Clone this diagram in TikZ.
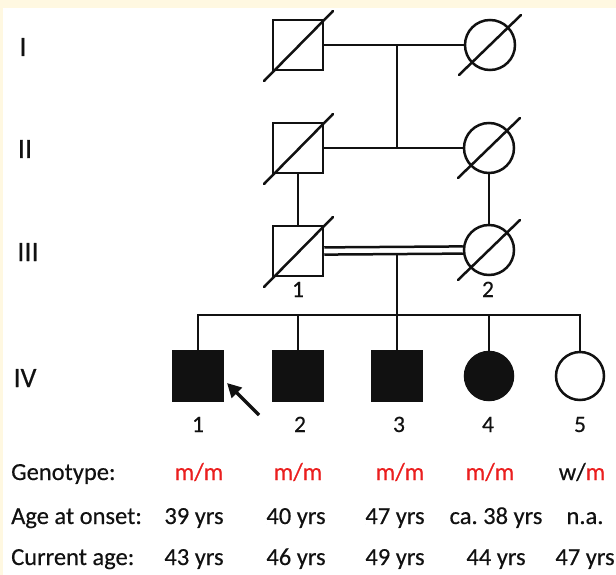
\documentclass[tikz,border=0pt]{standalone}
\usepackage{fontspec}
\setmainfont{Carlito}[FakeBold=0.35]
\usetikzlibrary{arrows.meta}
\definecolor{cream}{RGB}{255,248,225}
\definecolor{ink}{RGB}{17,17,17}
\definecolor{allele}{RGB}{235,30,30}
\frenchspacing
\tikzset{
  line/.style={line width=2.5pt, draw=ink},
  male/.style={line, rectangle, minimum size=50pt, inner sep=0pt},
  female/.style={line, circle, minimum size=50pt, inner sep=0pt},
  affected/.style={fill=ink},
  deceased/.style={line width=2.5pt, draw=ink, line cap=round},
  gen/.style={font=\fontsize{28}{30}\selectfont, text=ink, anchor=base},
  idlabel/.style={font=\fontsize{23.5}{26}\selectfont, text=ink, anchor=base},
  rowhead/.style={font=\fontsize{24.5}{26}\selectfont, text=ink, anchor=base west, inner sep=0pt},
  cell/.style={font=\fontsize{24.5}{26}\selectfont, text=ink, anchor=base, inner sep=0pt},
}
\begin{document}
\begin{tikzpicture}[x=1pt, y=-1pt]
  % page and the cream frame strips
  \fill[white] (0,0) rectangle (616,575);
  \fill[cream] (0,0) rectangle (616,8);
  \fill[cream] (0,0) rectangle (2.5,575);
  \useasboundingbox (0,0) rectangle (616,575);

  % generation numerals
  \node[gen] (gI)   at (23,56)  {I};
  \node[gen] (gII)  at (25,158) {II};
  \node[gen] (gIII) at (28,261) {III};
  \node[gen] (gIV)  at (25,387) {IV};

  % generation I
  \node[male]   (I1) at (298,45) {};
  \node[female] (I2) at (490,45) {};
  % generation II
  \node[male]   (II1) at (298,148) {};
  \node[female] (II2) at (489,148) {};
  % generation III
  \node[male]   (III1) at (298,251) {};
  \node[female] (III2) at (489,250) {};
  % generation IV
  \node[male, affected]   (IV1) at (198,376) {};
  \node[male, affected]   (IV2) at (298,376) {};
  \node[male, affected]   (IV3) at (397,376) {};
  \node[female, affected, minimum size=48pt] (IV4) at (489,376) {};
  \node[female, minimum size=48pt] (IV5) at (580,376) {};

  % deceased marks
  \foreach \p in {I1,II1,III1}
    \draw[deceased] ([shift={(-34,36)}]\p.center) -- ([shift={(35,-34)}]\p.center);
  \foreach \p in {I2,II2,III2}
    \draw[deceased] ([shift={(-31,30)}]\p.center) -- ([shift={(31,-30)}]\p.center);

  % couples and lines of descent
  \coordinate (dI)  at (397,45);
  \coordinate (dII) at (397,148);
  \draw[line] (I1.east) -- (I2.west);
  \draw[line] (dI) -- (dII);
  \draw[line] (II1.east) -- (II2.west);
  \draw[line] (II1.south) -- (III1.north);
  \draw[line] (II2.south) -- (III2.north);
  % consanguineous union
  \draw[line] ([yshift=3.6pt]III1.east) -- ([yshift=3.6pt]III2.west);
  \draw[line] ([yshift=-3.6pt]III1.east) -- ([yshift=-3.6pt]III2.west);
  \coordinate (dIII) at (397,254.6);
  \draw[line] (dIII) -- (IV3.north);
  % sibship line
  \coordinate (sib) at (397,315);
  \draw[line] (IV1.north) -- (IV1.north |- sib) -- (IV5.north |- sib) -- (IV5.north);
  \draw[line] (IV2.north) -- (IV2.north |- sib);
  \draw[line] (IV4.north) -- (IV4.north |- sib);

  % proband arrow
  \coordinate (ptail) at (259,415);
  \coordinate (phead) at (227,383);
  \draw[draw=ink, line width=3.5pt, -{Triangle[length=14pt, width=14pt]}] (ptail) -- (phead);

  % individual numbers
  \node[idlabel] (n31) at (298,297) {1};
  \node[idlabel] (n32) at (488,297) {2};
  \node[idlabel] (n41) at (198,432) {1};
  \node[idlabel] (n42) at (300,432) {2};
  \node[idlabel] (n43) at (399,432) {3};
  \node[idlabel] (n44) at (488,432) {4};
  \node[idlabel] (n45) at (580,432) {5};

  % table of findings
  \node[rowhead] (hg) at (11,480) {Genotype:};
  \node[rowhead] (ho) at (11,524) {Age at onset:};
  \node[rowhead] (hc) at (11,565) {Current age:};

  \node[cell, text=allele] (g1) at (199,480) {m/m};
  \node[cell, text=allele] (g2) at (298,480) {m/m};
  \node[cell, text=allele] (g3) at (400,480) {m/m};
  \node[cell, text=allele] (g4) at (490,480) {m/m};
  \node[cell] (g5) at (582,480) {w/\textcolor{allele}{m}};

  \node[cell] (o1) at (194,524) {39 yrs};
  \node[cell] (o2) at (296,524) {40 yrs};
  \node[cell] (o3) at (395,524) {47 yrs};
  \node[cell] (o4) at (496,524) {ca. 38 yrs};
  \node[cell] (o5) at (585,524) {n.a.};

  \node[cell] (c1) at (194,565) {43 yrs};
  \node[cell] (c2) at (296,565) {46 yrs};
  \node[cell] (c3) at (395,565) {49 yrs};
  \node[cell] (c4) at (496,565) {44 yrs};
  \node[cell] (c5) at (585,565) {47 yrs};
\end{tikzpicture}
\end{document}
